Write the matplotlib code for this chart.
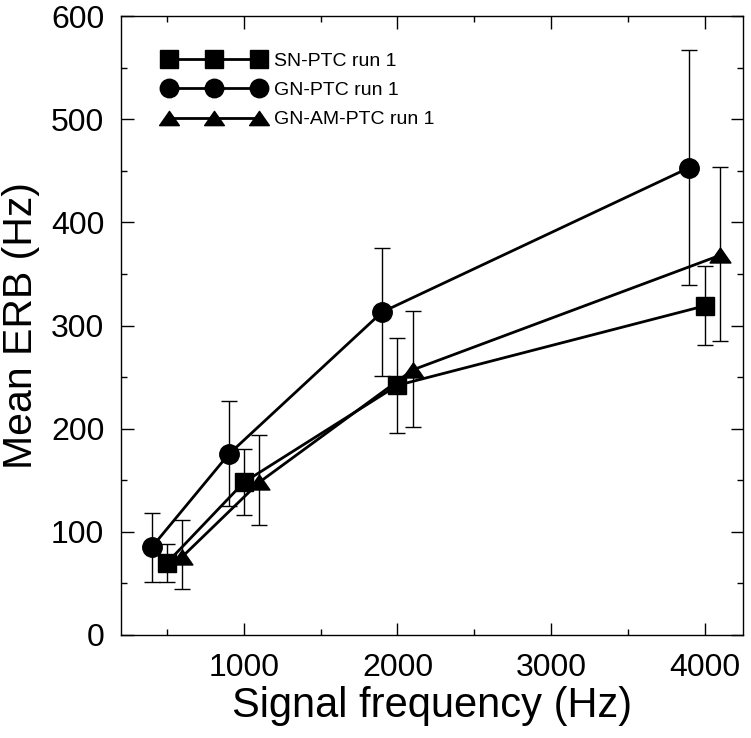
import matplotlib
matplotlib.use("Agg")
import matplotlib.pyplot as plt
from matplotlib.ticker import MultipleLocator
from matplotlib.path import Path

plt.rcParams['font.family'] = ['Liberation Sans', 'DejaVu Sans']

# Data
sn_x = [500, 1000, 2000, 4000]
sn_y = [70, 148, 242, 319]
sn_hi = [88, 180, 288, 358]
sn_lo = [51, 116, 196, 281]

gn_x = [400, 900, 1900, 3900]
gn_y = [85, 175, 313, 453]
gn_hi = [118, 227, 375, 567]
gn_lo = [51, 125, 251, 339]

am_x = [600, 1100, 2100, 4100]
am_y = [76, 148, 257, 368]
am_hi = [111, 194, 314, 454]
am_lo = [45, 107, 202, 285]

labels = ["SN-PTC run 1", "GN-PTC run 1", "GN-AM-PTC run 1"]

fig = plt.figure(figsize=(7.51, 7.38), dpi=100)
ax = fig.add_axes([121/751, 1 - 635/738, 622/751, 619/738])

tri = Path([(-1, -0.72), (1, -0.72), (0, 0.72), (-1, -0.72)],
           [Path.MOVETO, Path.LINETO, Path.LINETO, Path.CLOSEPOLY])

series = [
    (sn_x, sn_y, sn_hi, sn_lo, 's', 13.5, labels[0]),
    (gn_x, gn_y, gn_hi, gn_lo, 'o', 14, labels[1]),
    (am_x, am_y, am_hi, am_lo, tri, 15, labels[2]),
]
handles = []
for x, y, hi, lo, mk, ms, lab in series:
    yerr = [[yy - l for yy, l in zip(y, lo)], [h - yy for yy, h in zip(y, hi)]]
    ax.errorbar(x, y, yerr=yerr, fmt='none', ecolor='black', elinewidth=1.0,
                capsize=6, capthick=1.0, zorder=2)
    ln, = ax.plot(x, y, color='black', lw=2.0, marker=mk, ms=ms,
                  markerfacecolor='black', markeredgecolor='black', label=lab, zorder=3)
    handles.append(ln)

ax.set_xlim(200, 4250)
ax.set_ylim(0, 600)
ax.xaxis.set_major_locator(MultipleLocator(1000))
ax.xaxis.set_minor_locator(MultipleLocator(500))
ax.yaxis.set_major_locator(MultipleLocator(100))
ax.yaxis.set_minor_locator(MultipleLocator(50))
ax.tick_params(which='both', direction='in', top=True, right=True, width=1.0)
ax.tick_params(which='major', length=9, labelsize=23, pad=13)
ax.tick_params(axis='y', which='major', pad=12)
ax.tick_params(which='minor', length=4.5)
for s in ax.spines.values():
    s.set_linewidth(1.0)

ax.set_xlabel("Signal frequency (Hz)", fontsize=30, labelpad=2)
ax.set_ylabel("Mean ERB (Hz)", fontsize=29.5, labelpad=8)

leg = ax.legend(handles=handles, loc='upper left', bbox_to_anchor=(0.067, 0.9415),
                frameon=False, numpoints=3, fontsize=14, handlelength=5.23,
                handletextpad=0.47, labelspacing=0.6, borderpad=0, borderaxespad=0,
                markerscale=0.95)

fig.savefig("out.png", dpi=100)
